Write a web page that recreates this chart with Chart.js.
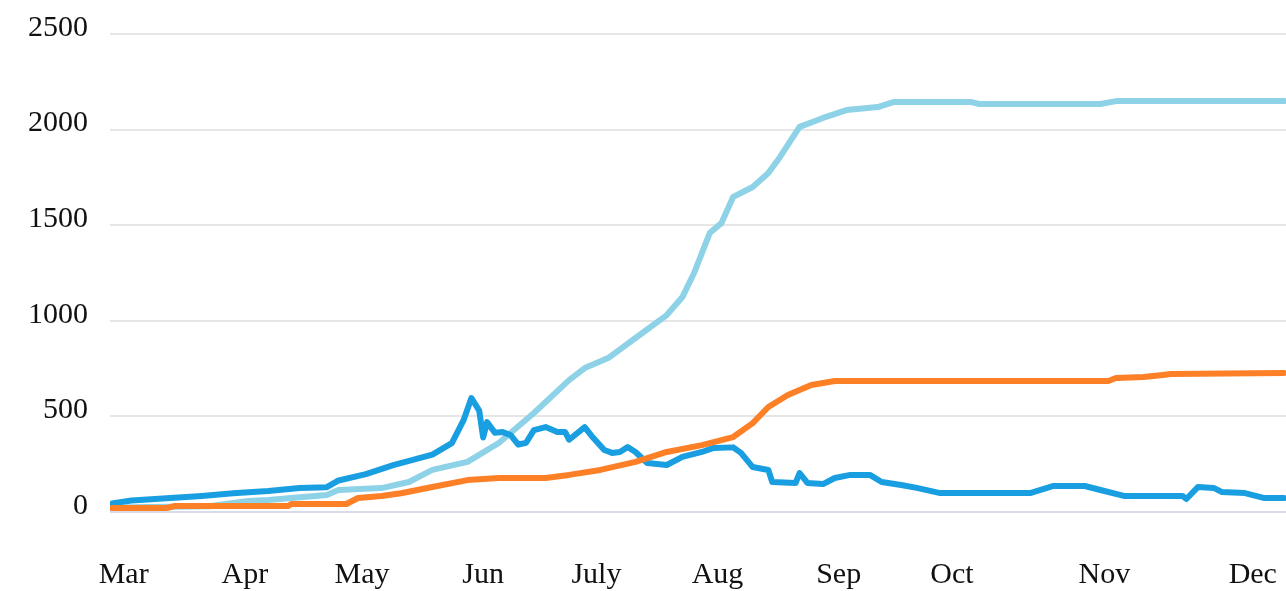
<!DOCTYPE html>
<html>
<head>
<meta charset="utf-8">
<script src="https://cdn.jsdelivr.net/npm/chart.js@4.4.1/dist/chart.umd.min.js"></script>
<style>
  html, body { margin: 0; padding: 0; background: #ffffff; }
  #wrap { width: 1286px; height: 591px; }
</style>
</head>
<body>
<div id="wrap"><canvas id="chart" width="1286" height="591"></canvas></div>
<script>
// days counted from 1 March
const tickDays = [3, 34, 64, 95, 124, 155, 186, 215, 254, 292];
const tickLabels = ['Mar', 'Apr', 'May', 'Jun', 'July', 'Aug', 'Sep', 'Oct', 'Nov', 'Dec'];

const blueDays = [0, 5, 14, 23, 31, 40, 48, 55, 58, 65, 72, 82, 87, 90, 92, 94, 95, 96, 98, 100,
  102, 104, 106, 108, 111, 114, 116, 117, 121, 123, 126, 128, 130, 132, 134, 137, 142, 146, 151, 154,
  159, 161, 164, 168, 169, 175, 176, 178, 182, 185, 189, 194, 197, 202, 206, 212, 228, 235, 241, 249,
  253, 259, 274, 275, 278, 282, 284, 290, 295, 300];
const blueValues = [45, 60, 72, 84, 98, 110, 125, 130, 165, 198, 245, 300, 360, 480, 596, 530, 390, 470, 415, 418,
  403, 352, 362, 428, 444, 418, 418, 378, 444, 392, 324, 309, 314, 340, 314, 256, 246, 288, 314, 335,
  338, 309, 235, 220, 157, 152, 204, 152, 146, 178, 194, 194, 157, 141, 126, 99, 99, 99, 136, 136,
  115, 84, 84, 68, 131, 126, 105, 99, 73, 73];

const orangeDays = [0, 14, 16, 45, 46, 60, 63, 69, 74, 82, 91, 99, 111, 117, 125, 134, 142, 151, 159, 164,
  168, 173, 179, 185, 255, 257, 264, 269, 271, 300];
const orangeValues = [21, 21, 31, 31, 42, 42, 73, 84, 98, 131, 167, 178, 178, 194, 220, 262, 314, 350, 392, 465,
  549, 612, 664, 685, 685, 701, 706, 717, 722, 727];

const lightDays = [0, 25, 30, 35, 40, 55, 58, 69, 76, 82, 91, 99, 108, 117, 121, 127, 134, 142, 146, 149, 153,
  156, 159, 164, 168, 171, 176, 182, 188, 196, 200, 220, 222, 253, 257, 300];
const lightValues = [24, 30, 45, 58, 63, 89, 115, 125, 157, 220, 262, 361, 518, 690, 753, 805, 910, 1030, 1124, 1250, 1459,
  1511, 1648, 1700, 1773, 1857, 2014, 2061, 2102, 2118, 2144, 2144, 2134, 2134, 2149, 2149];

const toPoints = (days, vals) => days.map((d, i) => ({ x: d, y: vals[i] }));

const serif = '"Liberation Serif", "Times New Roman", serif';

const lineStyle = {
  borderWidth: 6,
  pointRadius: 0,
  tension: 0,
  borderJoinStyle: 'round',
  borderCapStyle: 'round',
  fill: false
};

new Chart(document.getElementById('chart'), {
  type: 'line',
  data: {
    datasets: [
      Object.assign({ label: 'Orange', data: toPoints(orangeDays, orangeValues), borderColor: '#fd7f26' }, lineStyle),
      Object.assign({ label: 'Blue', data: toPoints(blueDays, blueValues), borderColor: '#199fe1' }, lineStyle),
      Object.assign({ label: 'Light blue', data: toPoints(lightDays, lightValues), borderColor: '#8dd2e6' }, lineStyle)
    ]
  },
  options: {
    responsive: false,
    animation: false,
    layout: { padding: { top: 34, right: 0, bottom: 0, left: 0 } },
    plugins: { legend: { display: false }, tooltip: { enabled: false } },
    scales: {
      x: {
        type: 'linear',
        min: -0.5,
        max: 300.5,
        border: { display: false },
        grid: { display: false, drawTicks: false },
        afterBuildTicks: (scale) => {
          scale.ticks = tickDays.map(v => ({ value: v }));
        },
        ticks: {
          autoSkip: false,
          maxRotation: 0,
          padding: 45,
          color: '#111111',
          font: { family: serif, size: 30 },
          callback: (value) => {
            const i = tickDays.indexOf(value);
            return i >= 0 ? tickLabels[i] : '';
          }
        },
        afterFit: (scale) => {
          scale.height = 79;
          scale.paddingLeft = 0;
          scale.paddingRight = 0;
        }
      },
      y: {
        min: 0,
        max: 2500,
        border: { display: false },
        grid: {
          drawTicks: false,
          lineWidth: 2,
          color: (ctx) => ctx.tick && ctx.tick.value === 0 ? '#d9dbe9' : '#e6e6e6'
        },
        ticks: {
          stepSize: 500,
          padding: 22,
          labelOffset: -6,
          color: '#111111',
          font: { family: serif, size: 30 },
          callback: (value) => String(value)
        },
        afterFit: (scale) => {
          scale.width = 110;
          scale.paddingTop = 0;
          scale.paddingBottom = 0;
        }
      }
    }
  }
});
</script>
</body>
</html>
